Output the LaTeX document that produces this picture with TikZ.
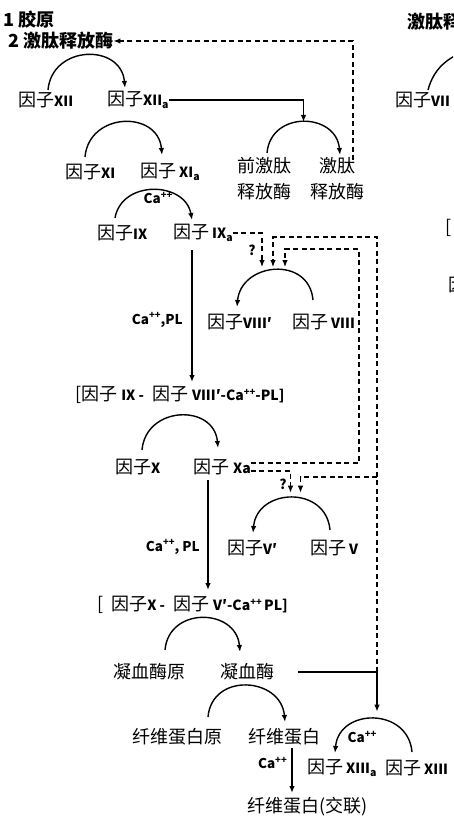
\documentclass[tikz,border=0pt]{standalone}
\usepackage{fontspec}
\setmainfont{Noto Sans CJK SC}
\usetikzlibrary{arrows.meta}
\newcommand{\rn}[1]{{\fontsize{14}{14}\bfseries #1}}
\newcommand{\subsc}[1]{\raisebox{-3.5pt}{\fontsize{10.5}{11}\bfseries #1}}
\newcommand{\caplus}{Ca\raisebox{5.5pt}{\fontsize{9.5}{10}\bfseries ++}}

\begin{document}
\begin{tikzpicture}[
x=1pt,y=-1pt,
lbl/.style={inner sep=0pt,anchor=west,font=\fontsize{18}{26}\selectfont},
small/.style={inner sep=0pt,font=\fontsize{13.5}{14}\bfseries},
arrow/.style={-{Latex[length=7pt,width=5.5pt]},line width=1.4pt},
dasharrow/.style={arrow,line width=1.2pt,dash pattern=on 5pt off 3.5pt},
hop/.style={out=85,in=95,looseness=1.5},
hopback/.style={out=95,in=85,looseness=1.5}
]
\useasboundingbox (0,0) rectangle (453,817);
\clip (0,0) rectangle (453,817);
\node[lbl,font=\fontsize{18}{26}\bfseries] (col) at (3,20) {1 胶原};
\node[lbl,font=\fontsize{18}{26}\bfseries] (kal) at (8,41) {2 激肽释放酶};
\node[lbl] (xii) at (18,100) {因子\rn{XII}};
\node[lbl] (xiia) at (107,100) {因子\rn{XII}\subsc{a}};
\node[lbl,align=center] (pk) at (237,179) {前激肽\\释放酶};
\node[lbl,align=center] (kk) at (310,179) {激肽\\释放酶};
\node[lbl] (xi) at (65,172) {因子\rn{XI}};
\node[lbl] (xia) at (140,172) {因子\,\rn{XI}\subsc{a}};
\node[lbl] (ix) at (97,233) {因子\rn{IX}};
\node[lbl] (ixa) at (173,233) {因子\,\rn{IX}\subsc{a}};
\node[small] (ca1) at (158,198) {\caplus};
\node[small,anchor=east] (capl1) at (183,320) {\caplus,PL};
\node[lbl] (viiip) at (207,322) {因子\rn{VIII′}};
\node[lbl] (viii) at (292,322) {因子\,\rn{VIII}};
\node[lbl] (cplx1) at (75,395) {[因子\ \rn{IX\ -}\ \ 因子\ \rn{VIII′-\caplus-PL]}};
\node[lbl] (x) at (115,467) {因子\rn{X}};
\node[lbl] (xa) at (193,467) {因子\ \rn{Xa}};
\node[small,anchor=east] (capl2) at (200,547) {\caplus, PL};
\node[lbl] (vp) at (227,548) {因子\rn{V′}};
\node[lbl] (v) at (310,548) {因子\,\rn{V}};
\node[lbl] (cplx2) at (97,605) {[\ \ 因子\rn{X\ -}\ \ 因子\ \rn{V′-\caplus\,PL]}};
\node[lbl] (pt) at (113,672) {凝血酶原};
\node[lbl] (th) at (220,672) {凝血酶};
\node[lbl] (fg) at (132,737) {纤维蛋白原};
\node[lbl] (fb) at (248,737) {纤维蛋白};
\node[small,anchor=east] (ca3) at (287,763) {\caplus};
\node[small] (ca4) at (362,737) {\caplus};
\node[lbl] (xiiia) at (307,768) {因子\,\rn{XIII}\subsc{a}};
\node[lbl] (xiii) at (385,768) {因子\,\rn{XIII}};
\node[lbl] (fbx) at (247,807) {纤维蛋白(交联)};
\node[small] (q1) at (252,250) {?};
\node[small] (q2) at (283,484) {?};
% cut off at the right edge
\node[lbl,font=\fontsize{18}{26}\bfseries] (kal2) at (407,22) {激肽释放酶};
\node[lbl] (vii) at (395,100) {因子\rn{VII}};
\node[lbl] (br) at (445,228) {[};
\node[lbl] (ixr) at (448,285) {因子};
\draw[line width=1.4pt] ([xshift=33pt,yshift=10pt]vii.west) to[out=75,in=200] ++(40,-40);

% activation arcs
\draw[arrow] ([xshift=30pt,yshift=10pt]xii.west) to[hop] ([xshift=18pt,yshift=12pt]xiia.west);
\draw[arrow] ([xshift=30pt,yshift=26pt]pk.west) to[hop] coordinate[pos=0.5] (kkarc) ([xshift=30pt,yshift=24pt]kk.west);
\draw[arrow] ([xshift=20pt,yshift=15pt]xi.west) to[hop] ([xshift=22pt,yshift=17pt]xia.west);
\draw[arrow] ([xshift=18pt,yshift=15pt]ix.west) to[out=80,in=100,looseness=1.3] ([xshift=19pt,yshift=13pt]ixa.west);
\draw[arrow] ([xshift=21pt,yshift=22pt]viii.west) to[hopback] coordinate[pos=0.5] (viiiarc) ([xshift=30pt,yshift=15pt]viiip.west);
\draw[arrow] ([xshift=27pt,yshift=17pt]x.west) to[hop] ([xshift=25pt,yshift=19pt]xa.west);
\draw[arrow] ([xshift=20pt,yshift=18pt]v.west) to[hopback] coordinate[pos=0.5] (varc) ([xshift=26pt,yshift=15pt]vp.west);
\draw[arrow] ([xshift=52pt,yshift=22pt]pt.west) to[hop] ([xshift=20pt,yshift=20pt]th.west);
\draw[arrow] ([xshift=76pt,yshift=20pt]fg.west) to[hop] ([xshift=37pt,yshift=15pt]fb.west);
\draw[arrow] ([xshift=27pt,yshift=16pt]xiii.west) to[hopback] coordinate[pos=0.5] (xiiiarc) ([xshift=28pt,yshift=15pt]xiiia.west);

% main cascade
\draw[arrow] (xiia.east) -| (kkarc);
\draw[dasharrow] ([xshift=43pt,yshift=19pt]kk.west) |- (kal.east);
\draw[arrow] ([xshift=19pt,yshift=-17pt]ixa.west) -- ([xshift=19pt,yshift=-149pt]ixa.west);
\draw[arrow] ([xshift=15pt,yshift=-13pt]xa.west) -- ([xshift=15pt,yshift=-123pt]xa.west);
\draw[arrow] ([xshift=44pt,yshift=-11pt]fb.west) -- ([xshift=44pt,yshift=-56pt]fb.west);

% feedback to VIII and V
\coordinate (jn) at (377,672);
\draw[arrow] ([xshift=24pt]th.east) -- (jn) -- ([yshift=7pt]jn |- xiiiarc);
\draw[dasharrow] (ixa.east) -| ([xshift=-13pt,yshift=3pt]viiiarc);
\draw[dasharrow] (jn) -- ++(0,-435) -| ([xshift=-2pt,yshift=3pt]viiiarc);
\draw[dasharrow] ([yshift=4pt]xa.east) -- ++(108,0) -- ++(0,-214) -| ([xshift=10pt,yshift=3pt]viiiarc);
\draw[dasharrow] ([yshift=-4pt]xa.east) -| ([xshift=-1pt,yshift=5pt]varc);
\draw[dasharrow] ([yshift=195pt]jn) -| ([xshift=9pt,yshift=5pt]varc);
\end{tikzpicture}
\end{document}
